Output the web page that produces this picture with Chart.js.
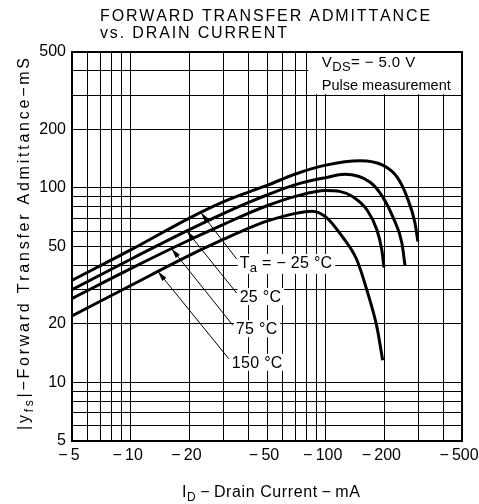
<!DOCTYPE html>
<html>
<head>
<meta charset="utf-8">
<script src="https://cdn.jsdelivr.net/npm/chart.js@4.4.0/dist/chart.umd.min.js"></script>
<style>
html, body { margin: 0; padding: 0; background: #fff; }
</style>
</head>
<body>
<canvas id="yfsChart" width="479" height="504"></canvas>
<script>
// drain current magnitude (mA) and |yfs| (mS)
const curM25 = [5, 10, 20, 30, 40, 50, 70, 100, 150, 196, 232, 261, 287, 297];
const yfsM25 = [33.5, 48, 70, 85, 95, 103, 118, 131, 138, 131, 114, 90, 66, 53];
const cur25 = [5, 10, 20, 30, 40, 50, 70, 100, 125, 169, 196, 221, 246, 255];
const yfs25 = [30, 43, 61, 74, 84, 92, 104, 113, 117.5, 107, 90, 71, 52, 40];
const cur75 = [5, 10, 20, 30, 40, 50, 70, 100, 118, 138, 163, 183, 194, 199];
const yfs75 = [27, 38.5, 54, 65, 74, 81, 90.5, 97, 96, 90, 77, 61, 48, 39];
const cur150 = [5, 10, 20, 30, 40, 50, 70, 85, 100, 122, 144, 164, 183, 196];
const yfs150 = [22, 31.5, 45, 54.5, 62, 67.5, 74, 76, 71, 56, 43, 29, 19.3, 13];

// grid lines and labelled ticks (same on both axes)
const gridVals = [5, 6, 7, 8, 9, 10, 20, 30, 40, 50, 60, 70, 80, 90, 100, 200, 300, 400, 500];
const xLabels = [5, 10, 20, 50, 100, 200, 500];
const yLabels = [5, 10, 20, 50, 100, 200, 500];

const tempNames = ['\u2212 25', '25', '75', '150'];

const FONT = '"Liberation Sans", Arial, Helvetica, sans-serif';
const curves = [[curM25, yfsM25], [cur25, yfs25], [cur75, yfs75], [cur150, yfs150]];

// where the leader arrows touch each curve (mA) and where the labels sit
const arrowAt = [22.9, 19.4, 16.2, 13.8];
const labelPos = [[36.2, 38.8], [36.2, 25.9], [34.6, 17.7], [33, 11.9]];

function curveAt(xa, ya, v) {
    for (let i = 0; i < xa.length - 1; i++) {
        if (v >= xa[i] && v <= xa[i + 1]) {
            const t = Math.log(v / xa[i]) / Math.log(xa[i + 1] / xa[i]);
            return Math.exp(Math.log(ya[i]) + t * Math.log(ya[i + 1] / ya[i]));
        }
    }
    return ya[0];
}

// draws text pieces one after another (for subscripts), returns width
function drawRich(c, parts, x, y, spacing, measureOnly) {
    let cx = x;
    parts.forEach(p => {
        c.font = p.size + 'px ' + FONT;
        for (const ch of p.t) {
            if (!measureOnly) c.fillText(ch, cx, y + (p.dy || 0));
            cx += c.measureText(ch).width + spacing;
        }
    });
    return cx - x - spacing;
}

const annotPlugin = {
    id: 'annot',
    beforeDatasetsDraw(chart) {
        const c = chart.ctx, xs = chart.scales.x, ys = chart.scales.y, a = chart.chartArea;
        c.save();
        c.textAlign = 'left';
        c.textBaseline = 'alphabetic';

        // note box top right
        c.fillStyle = '#fff';
        const bx = xs.getPixelForValue(80) + 1.5;
        const bb = ys.getPixelForValue(300) - 1;
        c.fillRect(bx, a.top + 1, a.right - bx - 1, bb - a.top - 1);
        c.fillStyle = '#000';
        const nx = xs.getPixelForValue(95.5);
        drawRich(c, [{ t: 'V', size: 15 }, { t: 'DS', size: 13, dy: 4 }, { t: '= \u2212 5.0 V', size: 15 }],
            nx, ys.getPixelForValue(419), 0.4);
        drawRich(c, [{ t: 'Pulse measurement', size: 14.5 }], nx, ys.getPixelForValue(319), 0);

        // temperature labels with leaders
        tempNames.forEach((name, i) => {
            const parts = i === 0
                ? [{ t: 'T', size: 16 }, { t: 'a', size: 13, dy: 4 }, { t: ' = ' + name + ' \u00b0C', size: 16 }]
                : [{ t: name + ' \u00b0C', size: 16 }];
            const lx = xs.getPixelForValue(labelPos[i][0]);
            const ly = ys.getPixelForValue(labelPos[i][1]);
            const w = drawRich(c, parts, lx, ly, 0.3, true);
            c.fillStyle = '#fff';
            c.fillRect(lx - 2, ly - 14, w + 5, i === 0 ? 20 : 17);
            c.fillStyle = '#000';
            drawRich(c, parts, lx, ly, 0.3);

            const tx = xs.getPixelForValue(arrowAt[i]);
            const ty = ys.getPixelForValue(curveAt(curves[i][0], curves[i][1], arrowAt[i]));
            const sx = lx - 3, sy = ly - 9;
            c.strokeStyle = '#000';
            c.lineWidth = 1;
            c.beginPath();
            c.moveTo(sx, sy);
            c.lineTo(tx, ty);
            c.stroke();
            const ang = Math.atan2(ty - sy, tx - sx);
            c.beginPath();
            c.moveTo(tx, ty);
            c.lineTo(tx - 10 * Math.cos(ang) + 2.6 * Math.sin(ang), ty - 10 * Math.sin(ang) - 2.6 * Math.cos(ang));
            c.lineTo(tx - 10 * Math.cos(ang) - 2.6 * Math.sin(ang), ty - 10 * Math.sin(ang) + 2.6 * Math.cos(ang));
            c.closePath();
            c.fill();
        });
        c.restore();
    },
    afterDraw(chart) {
        const c = chart.ctx, a = chart.chartArea;
        c.save();
        c.strokeStyle = '#000';
        c.lineWidth = 2;
        c.strokeRect(a.left, a.top, a.right - a.left, a.bottom - a.top);

        c.fillStyle = '#000';
        c.textBaseline = 'alphabetic';
        c.textAlign = 'left';
        // title, spaced out to the original width
        const t1 = 'FORWARD TRANSFER ADMITTANCE';
        c.font = '16px ' + FONT;
        const sp = (328 - c.measureText(t1).width) / (t1.length - 1);
        drawRich(c, [{ t: t1, size: 16 }], 100, 21, sp);
        drawRich(c, [{ t: 'vs. DRAIN CURRENT', size: 16 }], 100, 38, sp);

        // x axis title
        const xt = [{ t: 'I', size: 16 }, { t: 'D', size: 12, dy: 4 },
            { t: '\u2009\u2212\u2009Drain Current\u2009\u2212\u2009mA', size: 16 }];
        const xw = drawRich(c, xt, 0, 0, 0.6, true);
        drawRich(c, xt, 271 - xw / 2, 497, 0.6);

        // y axis title, rotated
        const yt = [{ t: '|y', size: 16 }, { t: 'fs', size: 12, dy: 4 }, { t: '|\u2212Forward Transfer Admittance\u2212mS', size: 16 }];
        const nat = drawRich(c, yt, 0, 0, 0, true);
        const ysp = (372 - nat) / 35;
        const yw = drawRich(c, yt, 0, 0, ysp, true);
        c.translate(29, 244);
        c.rotate(-Math.PI / 2);
        drawRich(c, yt, -yw / 2, 0, ysp);
        c.restore();
    }
};

function pairs(xa, ya) { return xa.map((v, i) => ({ x: v, y: ya[i] })); }

// keep the plot box fixed: no extra room for overhanging tick labels
const axisBase = (fit) => ({
    type: 'logarithmic', min: 5, max: 500,
    afterBuildTicks: s => { s.ticks = gridVals.map(v => ({ value: v })); },
    afterFit: s => {
        fit(s);
        s.paddingLeft = 0; s.paddingRight = 0; s.paddingTop = 0; s.paddingBottom = 0;
    },
    grid: { color: '#000', lineWidth: 1, drawTicks: false },
    border: { color: '#000', width: 2 },
    ticks: { autoSkip: false, maxRotation: 0, color: '#000', font: { family: FONT, size: 16 } }
});

const xAxis = axisBase(s => { s.height = 63; });
xAxis.ticks.padding = 5;
xAxis.ticks.labelOffset = -3;
xAxis.ticks.callback = v => xLabels.includes(v) ? '\u2212\u2009' + v : '';
const yAxis = axisBase(s => { s.width = 72; });
yAxis.ticks.padding = 6;
yAxis.ticks.callback = v => yLabels.includes(v) ? String(v) : '';

new Chart(document.getElementById('yfsChart').getContext('2d'), {
    type: 'scatter',
    data: {
        datasets: curves.map(cv => ({
            data: pairs(cv[0], cv[1]), showLine: true, fill: false,
            borderColor: '#000', borderWidth: 3, pointRadius: 0,
            cubicInterpolationMode: 'monotone'
        }))
    },
    options: {
        responsive: false, animation: false,
        layout: { padding: { top: 52, right: 17, left: 0, bottom: 0 } },
        plugins: { legend: { display: false }, tooltip: { enabled: false } },
        scales: { x: xAxis, y: yAxis }
    },
    plugins: [annotPlugin]
});
</script>
</body>
</html>
